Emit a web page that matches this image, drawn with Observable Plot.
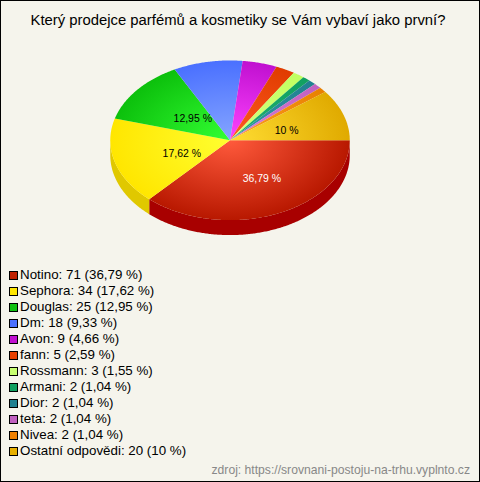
<!DOCTYPE html>
<html><head><meta charset="utf-8">
<script src="https://cdn.jsdelivr.net/npm/d3@7"></script>
<script src="https://cdn.jsdelivr.net/npm/@observablehq/plot@0.6"></script>
<style>
html,body{margin:0;padding:0;background:#f5f4ec}
#chart{position:relative;width:478px;height:480px;border:1px solid #000;background:#f5f4ec;overflow:hidden;font-family:"Liberation Sans",Arial,sans-serif;color:#000}
#title{position:absolute;left:0;width:474px;top:11px;text-align:center;font-size:14.85px;line-height:16px}
#pie{position:absolute;left:-1px;top:38px}
#pie svg{display:block;background:transparent}
#legend{position:absolute;left:8px;top:266px;font-size:13.35px;line-height:16px}
#legend div{height:16px;white-space:nowrap}
#legend i{display:inline-block;width:7px;height:7px;border:1px solid #000;margin-right:2px;vertical-align:-0.5px}
#src{position:absolute;right:9px;top:461px;font-size:12.15px;line-height:16px;color:#888}
</style></head>
<body>
<div id="chart">
<div id="title">Který prodejce parfémů a kosmetiky se Vám vybaví jako první?</div>
<div id="pie"></div>
<div id="legend"></div>
<div id="src">zdroj: https://srovnani-postoju-na-trhu.vyplnto.cz</div>
</div>
<script>
const categories = ["Notino","Sephora","Douglas","Dm","Avon","fann","Rossmann","Armani","Dior","teta","Nivea","Ostatní odpovědi"];
const counts = [71,34,25,18,9,5,3,2,2,2,2,20];
const percents = ["36,79","17,62","12,95","9,33","4,66","2,59","1,55","1,04","1,04","1,04","1,04","10"];
const labelled = ["Notino","Sephora","Douglas","Ostatní odpovědi"];
const swatch = ["#c02000","#ffe600","#10c010","#4a70ff","#c010d0","#e84000","#c8ff70","#10a060","#208090","#c060c0","#f08000","#e8b000"];
const centre = ["#ff5a3c","#ffff30","#33ff33","#85a5ff","#ff44ff","#ff5a20","#d8ff80","#20b070","#3098a8","#d880d8","#ffa020","#ffdd33"];
const rim = ["#b81800","#ffe600","#0cc00c","#4a70ff","#c010d0","#e03c00","#c0ff60","#10a060","#208090","#c060c0","#e88000","#e0aa00"];
const sideColour = ["#a80000","#e0c800"];

const total = d3.sum(counts);
const W = 480, H = 206, TOP = 21, RX = 120, RY = 80, DEPTH = 15 / RY;
const cx = 230, cy = TOP + RY;

let acc = 0;
const slices = categories.map((name, i) => {
  const a0 = acc / total * 2 * Math.PI;
  acc += counts[i];
  const a1 = acc / total * 2 * Math.PI;
  return {name, i, a0, a1};
});
function arc(a0, a1, dy = 0) {
  const n = Math.max(2, Math.ceil((a1 - a0) / 0.01));
  return d3.range(n + 1).map(k => {
    const a = a0 + (a1 - a0) * k / n;
    return {x: Math.cos(a), y: Math.sin(a) + dy};
  });
}
const wedge = s => [{x:0,y:0}, ...arc(s.a0, s.a1), {x:0,y:0}];
const wall = s => {
  const a1 = Math.min(s.a1, Math.PI);
  if (s.a0 >= a1) return null;
  return [...arc(s.a0, a1), ...arc(s.a0, a1, DEPTH).reverse()];
};
const defs = () => {
  const svg = d3.create("svg:defs");
  slices.forEach(s => {
    const g = svg.append("radialGradient").attr("id", "g" + s.i)
      .attr("gradientUnits", "userSpaceOnUse").attr("cx", 0).attr("cy", 0).attr("r", RX)
      .attr("gradientTransform", `translate(${cx},${cy}) scale(1,${RY / RX})`);
    g.append("stop").attr("offset", 0).attr("stop-color", centre[s.i]);
    g.append("stop").attr("offset", 1).attr("stop-color", rim[s.i]);
  });
  return svg.node();
};
const walls = slices.map(s => ({s, p: wall(s)})).filter(d => d.p)
  .map(d => Plot.line(d.p, {x:"x", y:"y", fill: sideColour[d.s.i], stroke: "none"}));
const tops = slices.map(s => Plot.line(wedge(s), {x:"x", y:"y", fill:`url(#g${s.i})`, stroke:"none"}));
const labels = slices.filter(s => labelled.includes(s.name)).map(s => {
  const m = (s.a0 + s.a1) / 2;
  return {x: .49 * Math.cos(m), y: .49 * Math.sin(m), t: percents[s.i] + " %", c: s.i === 0 ? "#fff" : "#000"};
});
const plot = Plot.plot({
  width: W, height: H, margin: 0, marginLeft: cx - RX, marginRight: W - cx - RX,
  marginTop: TOP, marginBottom: H - TOP - 2 * RY,
  x: {domain: [-1, 1], axis: null},
  y: {domain: [-1, 1], axis: null, reverse: true},
  style: {background: "transparent", fontFamily: '"Liberation Sans",Arial,sans-serif'},
  marks: [
    defs,
    ...walls,
    ...tops,
    Plot.text(labels, {x:"x", y:"y", text:"t", fill:"c", textAnchor:"start", dx:-11, dy:3, fontSize:10.5})
  ]
});
document.getElementById("pie").appendChild(plot);
const lg = d3.select("#legend");
categories.forEach((c, i) => {
  const row = lg.append("div");
  row.append("i").style("background", swatch[i]);
  row.append("span").text(`${c}: ${counts[i]} (${percents[i]} %)`);
});
</script>
</body></html>
